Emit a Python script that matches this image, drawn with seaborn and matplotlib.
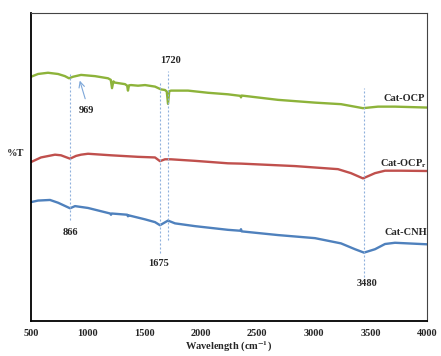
import matplotlib
matplotlib.use("Agg")
import matplotlib.pyplot as plt
import seaborn as sns
import pandas as pd

# ---- data ----
ocp_wn = [500, 562, 650, 739, 800, 836, 871, 942, 1004, 1066, 1181, 1205, 1216, 1228, 1242,
          1331, 1350, 1357, 1366, 1384, 1446, 1508, 1596, 1649, 1684, 1700, 1711, 1722, 1737,
          1888, 2064, 2241, 2350, 2356, 2362, 2683, 3010, 3240, 3434, 3567, 3717, 4000]
ocp_t = [79.3, 80.2, 80.6, 80.2, 79.5, 78.8, 79.3, 79.9, 79.7, 79.5, 78.8, 78.3, 75.6, 77.8, 77.4,
         76.9, 76.4, 74.8, 76.5, 76.6, 76.4, 76.6, 76.1, 75.2, 75.0, 74.5, 70.5, 74.6, 74.8,
         74.8, 74.1, 73.6, 73.1, 72.6, 73.2, 71.8, 70.9, 70.4, 69.1, 69.6, 69.6, 69.3]

ocpr_wn = [500, 588, 712, 765, 845, 898, 942, 1004, 1207, 1446, 1596, 1640, 1684, 1737,
           1949, 2241, 2356, 2833, 3213, 3328, 3434, 3540, 3629, 3770, 4000]
ocpr_t = [51.6, 53.1, 54.0, 53.8, 52.7, 53.6, 54.0, 54.3, 53.8, 53.3, 53.1, 51.9, 52.5, 52.5,
          52.0, 51.2, 51.1, 50.3, 49.3, 48.0, 46.3, 48.0, 48.8, 48.8, 48.7]

cnh_wn = [500, 562, 668, 739, 845, 889, 1004, 1200, 1207, 1214, 1350, 1357, 1364, 1508, 1596,
          1640, 1711, 1773, 1949, 2241, 2350, 2356, 2362, 2683, 3010, 3240, 3364, 3443, 3540,
          3629, 3717, 4000]
cnh_t = [38.6, 39.1, 39.3, 38.4, 36.6, 37.3, 36.7, 34.9, 34.5, 34.9, 34.5, 34.0, 34.3, 33.0, 32.1,
         31.1, 32.6, 31.7, 30.8, 29.6, 29.3, 29.8, 29.1, 27.9, 26.9, 25.2, 23.3, 22.2, 23.3,
         25.0, 25.4, 24.9]

series_names = ["Cat-OCP", "Cat-OCPr", "Cat-CNH"]
series_colors = ["#8DB33A", "#C0504D", "#4F81BD"]

# vertical marker lines: position, ymin, ymax
marker_x = [845, 1640, 1711, 3440]
marker_ymin = [32.8, 22.1, 26.3, 14.3]
marker_ymax = [80.5, 77.9, 81.2, 75.6]

peak_labels = ["1720", "969", "866", "1675", "3480"]
peak_label_x = [1729, 986, 845, 1631, 3470]
peak_label_y = [84.7, 68.5, 28.6, 18.8, 12.3]

x_ticks = [500, 1000, 1500, 2000, 2500, 3000, 3500, 4000]

# ---- build table ----
frames = []
for name, wn, t in zip(series_names, [ocp_wn, ocpr_wn, cnh_wn], [ocp_t, ocpr_t, cnh_t]):
    frames.append(pd.DataFrame({"wn": wn, "T": t, "sample": name}))
df = pd.concat(frames, ignore_index=True)

sns.set_style("white")
plt.rcParams["font.family"] = ["Liberation Serif", "DejaVu Serif"]
plt.rcParams["mathtext.fontset"] = "stix"
plt.rcParams["font.weight"] = "bold"

fig = plt.figure(figsize=(4.41, 3.56), dpi=100)
ax = fig.add_axes([31 / 441, 35 / 356, 396 / 441, 308 / 356])

for name, col in zip(series_names, series_colors):
    sub = df[df["sample"] == name]
    sns.lineplot(data=sub, x="wn", y="T", ax=ax, color=col, linewidth=1.7,
                 sort=False, estimator=None, legend=False)

for xv, y0, y1 in zip(marker_x, marker_ymin, marker_ymax):
    ax.vlines(xv, y0, y1, colors="#8EB0DC", linestyles=(0, (1.8, 1.8)), linewidth=0.8)

for lab, xv, yv in zip(peak_labels, peak_label_x, peak_label_y):
    ax.text(xv, yv, lab, ha="center", va="center", fontsize=7.5, fontweight="bold")

ax.annotate("", xy=(924, 78.9), xytext=(986, 71.3),
            arrowprops=dict(arrowstyle="->", color="#7DA7D9", lw=0.8))

ax.text(3796, 72.1, "Cat-OCP", ha="center", va="center", fontsize=7.5, fontweight="bold")
ax.text(3796, 51.0, r"Cat-OCP$_{\mathbf{r}}$", ha="center", va="center", fontsize=7.5, fontweight="bold")
ax.text(3814, 28.6, "Cat-CNH", ha="center", va="center", fontsize=7.5, fontweight="bold")

ax.text(-0.04, 0.545, "%T", transform=ax.transAxes, ha="center", va="center",
        fontsize=7.5, fontweight="bold")

ax.set_xlim(500, 4000)
ax.set_ylim(0, 100)
ax.set_xticks(x_ticks)
ax.set_xticklabels([str(v) for v in x_ticks], fontsize=7.5, fontweight="bold")
ax.set_yticks([])
ax.tick_params(axis="x", length=0, pad=6)
ax.set_xlabel(r"Wavelength (cm$^{\mathbf{-1}}$)", fontsize=7.5, fontweight="bold", labelpad=1)
ax.set_ylabel("")

for side in ["left", "bottom"]:
    ax.spines[side].set_color("black")
    ax.spines[side].set_linewidth(1.3)
for side in ["top", "right"]:
    ax.spines[side].set_color("#444444")
    ax.spines[side].set_linewidth(0.8)

fig.savefig("out.png", dpi=100)
